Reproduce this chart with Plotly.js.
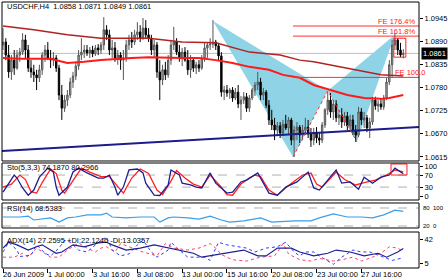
<!DOCTYPE html>
<html><head><meta charset="utf-8">
<script src="https://cdn.plot.ly/plotly-3.0.1.min.js"></script>
<style>html,body{margin:0;padding:0;background:#fff}#chart{width:448px;height:280px}</style>
</head><body><div id="chart"></div>
<script>
// ---------- data ----------
const symbolTitle = 'USDCHF,H4  1.0858 1.0871 1.0849 1.0861';
const stoTitle = 'Sto(5,3,3) 74.1870 80.2966';
const rsiTitle = 'RSI(14) 68.5383';
const adxTitle = 'ADX(14) 27.2595 +DI:22.1246 -DI:13.0357';
const tickBars = [0,16,32,48,64,80,96,112,128];
const tickLabels = ['26 Jun 2009','1 Jul 00:00','3 Jul 16:00','8 Jul 08:00','13 Jul 00:00','15 Jul 16:00','20 Jul 08:00','23 Jul 00:00','27 Jul 16:00'];
const priceTicks = [1.0945,1.0890,1.0835,1.0780,1.0725,1.0670,1.0615];

const open = [1.0881,1.0888,1.0857,1.0817,1.0845,1.0826,1.0857,1.0864,1.0893,1.0869,
1.0826,1.0817,1.0810,1.0803,1.0822,1.0857,1.0869,1.0850,1.0845,1.0850,
1.0826,1.0762,1.0731,1.0750,1.0762,1.0793,1.0807,1.0831,1.0857,1.0864,
1.0869,1.0862,1.0869,1.0860,1.0874,1.0869,1.0881,1.0917,1.0905,1.0869,
1.0874,1.0850,1.0857,1.0845,1.0850,1.0881,1.0893,1.0888,1.0905,1.0912,
1.0897,1.0921,1.0905,1.0897,1.0869,1.0881,1.0817,1.0798,1.0822,1.0810,
1.0845,1.0881,1.0888,1.0864,1.0850,1.0864,1.0845,1.0822,1.0845,1.0826,
1.0834,1.0826,1.0850,1.0874,1.0881,1.0883,1.0888,1.0879,1.0855,1.0769,
1.0774,1.0767,1.0774,1.0755,1.0769,1.0741,1.0750,1.0758,1.0731,1.0755,
1.0774,1.0786,1.0793,1.0762,1.0769,1.0738,1.0703,1.0691,1.0679,1.0689,
1.0672,1.0693,1.0684,1.0703,1.0655,1.0679,1.0686,1.0667,1.0679,1.0686,
1.0670,1.0655,1.0674,1.0660,1.0655,1.0691,1.0727,1.0750,1.0722,1.0741,
1.0708,1.0715,1.0698,1.0712,1.0689,1.0703,1.0679,1.0667,1.0722,1.0703,
1.0708,1.0684,1.0698,1.0750,1.0736,1.0741,1.0734,1.0755,1.0793,1.0834,
1.0881,1.0893,1.0869,1.0858];
const high = [1.0921,1.0897,1.0881,1.0857,1.0869,1.0869,1.0874,1.0909,1.0905,1.0881,
1.0845,1.0834,1.0822,1.0834,1.0864,1.0881,1.0888,1.0869,1.0864,1.0857,
1.0834,1.0786,1.0762,1.0774,1.0803,1.0817,1.0841,1.0869,1.0897,1.0881,
1.0881,1.0876,1.0879,1.0881,1.0883,1.0888,1.0947,1.0928,1.0917,1.0893,
1.0888,1.0869,1.0864,1.0869,1.0893,1.0905,1.0912,1.0917,1.0935,1.0928,
1.0945,1.0940,1.0921,1.0905,1.0893,1.0888,1.0845,1.0834,1.0841,1.0857,
1.0893,1.0924,1.0897,1.0881,1.0874,1.0876,1.0869,1.0857,1.0850,1.0841,
1.0845,1.0857,1.0888,1.0886,1.0897,1.0940,1.0893,1.0886,1.0864,1.0784,
1.0786,1.0779,1.0781,1.0779,1.0786,1.0760,1.0769,1.0767,1.0762,1.0779,
1.0793,1.0817,1.0803,1.0779,1.0774,1.0750,1.0727,1.0708,1.0698,1.0698,
1.0703,1.0715,1.0710,1.0708,1.0689,1.0698,1.0691,1.0691,1.0708,1.0703,
1.0684,1.0684,1.0686,1.0674,1.0698,1.0731,1.0769,1.0767,1.0750,1.0750,
1.0727,1.0731,1.0722,1.0722,1.0715,1.0715,1.0691,1.0734,1.0731,1.0722,
1.0715,1.0708,1.0758,1.0758,1.0750,1.0755,1.0762,1.0803,1.0845,1.0893,
1.0909,1.0897,1.0886,1.0871];
const low = [1.0869,1.0845,1.0803,1.0798,1.0810,1.0822,1.0841,1.0857,1.0850,1.0817,
1.0803,1.0793,1.0774,1.0793,1.0810,1.0841,1.0845,1.0826,1.0831,1.0817,
1.0750,1.0703,1.0722,1.0736,1.0755,1.0779,1.0798,1.0822,1.0845,1.0850,
1.0855,1.0850,1.0852,1.0855,1.0857,1.0860,1.0869,1.0893,1.0857,1.0850,
1.0841,1.0834,1.0822,1.0798,1.0841,1.0869,1.0874,1.0881,1.0893,1.0888,
1.0893,1.0897,1.0888,1.0857,1.0850,1.0803,1.0750,1.0786,1.0798,1.0803,
1.0834,1.0869,1.0857,1.0841,1.0831,1.0841,1.0810,1.0803,1.0817,1.0812,
1.0817,1.0822,1.0841,1.0850,1.0869,1.0874,1.0869,1.0845,1.0758,1.0750,
1.0758,1.0753,1.0746,1.0750,1.0731,1.0703,1.0741,1.0722,1.0722,1.0750,
1.0760,1.0774,1.0750,1.0750,1.0731,1.0691,1.0679,1.0655,1.0667,1.0660,
1.0665,1.0679,1.0670,1.0643,1.0615,1.0655,1.0648,1.0655,1.0667,1.0660,
1.0639,1.0643,1.0648,1.0643,1.0648,1.0684,1.0715,1.0708,1.0703,1.0698,
1.0691,1.0684,1.0689,1.0679,1.0674,1.0667,1.0651,1.0662,1.0691,1.0684,
1.0674,1.0660,1.0691,1.0727,1.0722,1.0727,1.0727,1.0750,1.0786,1.0805,
1.0869,1.0857,1.0852,1.0849];
const close = [1.0888,1.0857,1.0817,1.0845,1.0826,1.0857,1.0864,1.0893,1.0869,1.0826,
1.0817,1.0810,1.0803,1.0822,1.0857,1.0869,1.0850,1.0845,1.0850,1.0826,
1.0762,1.0731,1.0750,1.0762,1.0793,1.0807,1.0831,1.0857,1.0864,1.0869,
1.0862,1.0869,1.0860,1.0874,1.0869,1.0881,1.0917,1.0905,1.0869,1.0874,
1.0850,1.0857,1.0845,1.0850,1.0881,1.0893,1.0888,1.0905,1.0912,1.0897,
1.0921,1.0905,1.0897,1.0869,1.0881,1.0817,1.0798,1.0822,1.0810,1.0845,
1.0881,1.0888,1.0864,1.0850,1.0864,1.0845,1.0822,1.0845,1.0826,1.0834,
1.0826,1.0850,1.0874,1.0881,1.0883,1.0888,1.0879,1.0855,1.0769,1.0774,
1.0767,1.0774,1.0755,1.0769,1.0741,1.0750,1.0758,1.0731,1.0755,1.0774,
1.0786,1.0793,1.0762,1.0769,1.0738,1.0703,1.0691,1.0679,1.0689,1.0672,
1.0693,1.0684,1.0703,1.0655,1.0679,1.0686,1.0667,1.0679,1.0686,1.0670,
1.0655,1.0674,1.0660,1.0655,1.0691,1.0727,1.0750,1.0722,1.0741,1.0708,
1.0715,1.0698,1.0712,1.0689,1.0703,1.0679,1.0667,1.0722,1.0703,1.0708,
1.0684,1.0698,1.0750,1.0736,1.0741,1.0734,1.0755,1.0793,1.0834,1.0881,
1.0893,1.0869,1.0857,1.0861];

// moving averages (read at selected bars)
const maSlowBars = [0,11,23,35,52,64,76,88,99,106,111,123,135,143];
const maSlowVals = [1.0926,1.0917,1.0905,1.0897,1.0897,1.0888,1.0886,1.0864,1.0857,1.0845,1.0841,1.0826,1.0810,1.0807];
const maFastBars = [0,6,17,23,29,35,46,52,64,70,76,82,88,95,100,106,111,117,123,129,135,138,143];
const maFastVals = [1.0850,1.0848,1.0848,1.0838,1.0841,1.0845,1.0850,1.0852,1.0850,1.0850,1.0845,1.0838,1.0829,1.0822,1.0810,1.0803,1.0786,1.0774,1.0762,1.0755,1.0753,1.0755,1.0762];
const trendBars = [-0.4,148.6];
const trendVals = [1.0629,1.0686];

// harmonic pattern X A B C D
const patternBars = [75,103.6,116,126.4,140];
const patternPrices = [1.0938,1.0615,1.0772,1.0651,1.0905];
const feLevels = [1.0926,1.0902,1.0804];
const feLabels = ['FE 176.4%','FE 161.8%','FE 100.0'];
const boxBars = [139.6,143.9];
const boxPrices = [1.0852,1.0897];

// Stochastic(5,3,3)
const stoMainBars = [0,4,5,7,9,11,13,16,18,19,20,23,25,27,30,34,36,38,40,41,43,45,48,50,51,54,56,59,60,63,64,67,69,71,74,76,80,82,85,87,91,93,95,98,101,105,109,111,113,116,119,121,124,127,129,132,135,138,140,143];
const stoMainVals = [13,70,60,27,3,20,63,93,80,30,3,30,80,93,77,60,60,70,30,3,30,87,90,77,43,3,2,37,87,70,43,37,30,27,77,43,10,13,47,53,77,43,10,3,30,47,80,27,20,53,87,43,47,23,63,43,63,70,93,74.19];
const stoSigBars = [0,3,6,8,10,12,14,17,19,21,22,25,28,31,35,38,41,43,46,49,52,55,57,60,62,65,68,71,74,78,80,82,85,88,90,92,95,98,102,107,110,112,114,119,122,126,129,133,137,140,143];
const stoSigVals = [30,40,70,55,15,10,45,90,75,20,10,50,93,80,65,65,30,10,60,90,75,20,5,50,85,60,40,30,70,30,5,3,40,60,70,65,20,3,35,70,77,40,30,80,55,37,45,53,70,87,80.30];
const stoBoxBars = [138.6,144.3];
const stoBoxVals = [70,106.7];

// RSI(14)
const rsiBars = [0,6,9,11,17,20,23,26,30,35,37,39,44,49,54,56,59,61,66,70,74,78,81,86,92,96,104,110,113,118,123,128,132,136,140,143];
const rsiVals = [50,50,53,40,47,33,47,50,57,57,63,50,47,50,50,33,47,50,47,43,53,40,33,37,47,33,37,37,47,60,50,50,47,57,73,68.54];

// ADX(14)
const adxBars = [0,2,5,9,12,14,17,19,21,25,29,34,37,39,44,49,54,59,63,68,71,74,79,86,91,94,98,103,106,111,116,119,124,129,134,137,141,143];
const adxVals = [28,37,33,25,30,33,25,20,22,33,30,36,37,33,25,28,33,28,25,20,14,16,20,25,16,16,28,28,22,16,20,25,22,16,20,14,22,27.26];
const pdiBars = [0,4,7,9,12,15,17,20,23,27,30,33,35,37,40,42,45,50,55,58,61,66,70,74,76,78,82,87,92,97,99,100,102,106,110,113,118,121,125,128,132,135,138,141,143];
const pdiVals = [14,14,20,14,28,19,14,14,25,36,28,22,28,30,22,35,30,22,16,35,28,25,28,35,28,18,10,8,14,16,28,35,19,10,8,12,8,10,14,8,14,20,30,28,22.12];
const mdiBars = [0,2,5,6,10,12,15,17,20,22,24,27,30,35,37,39,42,45,48,50,53,55,59,60,63,66,72,74,76,77,80,84,87,90,94,98,101,104,106,108,111,113,118,121,125,128,131,136,139,143];
const mdiVals = [22,37,25,15,17,33,20,16,28,40,37,25,22,40,45,25,16,19,33,40,22,14,25,37,25,14,14,9,28,37,33,30,28,22,28,30,37,22,16,22,22,16,3,14,25,22,22,14,9,13.04];

// ---------- drawing ----------
const FONT = 'Liberation Sans, Arial, sans-serif';
const idx = close.map((_, i) => i);
const xr = [-0.36, 148.6];
const last = close[close.length - 1];

const traces = [
  {type:'candlestick', x:idx, open:open, high:high, low:low, close:close, xaxis:'x', yaxis:'y',
   whiskerwidth:0, hoverinfo:'skip', showlegend:false,
   increasing:{line:{color:'#555555', width:1}, fillcolor:'#b4b4b4'},
   decreasing:{line:{color:'#000000', width:1}, fillcolor:'#000000'}},
  {type:'scatter', mode:'lines', x:maSlowBars, y:maSlowVals, line:{color:'#b22222', width:1.5}, yaxis:'y', showlegend:false, hoverinfo:'skip'},
  {type:'scatter', mode:'lines', x:maFastBars, y:maFastVals, line:{color:'#ff1a1a', width:2}, yaxis:'y', showlegend:false, hoverinfo:'skip'},
  {type:'scatter', mode:'lines', x:trendBars, y:trendVals, line:{color:'#1c1c8a', width:2}, yaxis:'y', showlegend:false, hoverinfo:'skip', cliponaxis:true},
  {type:'scatter', mode:'lines', x:patternBars.slice(1,4), y:patternPrices.slice(1,4), line:{color:'#ff3030', width:1, dash:'dot'}, yaxis:'y', showlegend:false, hoverinfo:'skip'},
  {type:'scatter', mode:'lines', x:stoSigBars, y:stoSigVals, line:{color:'#ff2020', width:1.3}, yaxis:'y2', showlegend:false, hoverinfo:'skip'},
  {type:'scatter', mode:'lines', x:stoMainBars, y:stoMainVals, line:{color:'#1e1e90', width:1.3}, yaxis:'y2', showlegend:false, hoverinfo:'skip'},
  {type:'scatter', mode:'lines', x:rsiBars, y:rsiVals, line:{color:'#3a9ee8', width:1.2}, yaxis:'y3', showlegend:false, hoverinfo:'skip'},
  {type:'scatter', mode:'lines', x:pdiBars, y:pdiVals, line:{color:'#ff4060', width:1, dash:'dot'}, yaxis:'y4', showlegend:false, hoverinfo:'skip'},
  {type:'scatter', mode:'lines', x:mdiBars, y:mdiVals, line:{color:'#2a3cff', width:1, dash:'dot'}, yaxis:'y4', showlegend:false, hoverinfo:'skip'},
  {type:'scatter', mode:'lines', x:adxBars, y:adxVals, line:{color:'#1e1e90', width:1.2}, yaxis:'y4', showlegend:false, hoverinfo:'skip'}
];

function triPath(a, b, c) {
  return 'M' + patternBars[a] + ',' + patternPrices[a] +
         ' L' + patternBars[b] + ',' + patternPrices[b] +
         ' L' + patternBars[c] + ',' + patternPrices[c] + ' Z';
}

const shapes = [
  {type:'path', xref:'x', yref:'y', path:triPath(0,1,2), fillcolor:'#8fd4e6', line:{width:0}, layer:'below'},
  {type:'path', xref:'x', yref:'y', path:triPath(2,3,4), fillcolor:'#8fd4e6', line:{width:0}, layer:'below'},
  {type:'line', xref:'paper', yref:'y', x0:0, x1:1, y0:last, y1:last, line:{color:'#bdbdbd', width:1}, layer:'below'},
  {type:'rect', xref:'x', yref:'y', x0:boxBars[0], x1:boxBars[1], y0:boxPrices[0], y1:boxPrices[1], line:{color:'#ff2020', width:1}},
  {type:'rect', xref:'x', yref:'y2', x0:stoBoxBars[0], x1:stoBoxBars[1], y0:stoBoxVals[0], y1:stoBoxVals[1], line:{color:'#ff2020', width:1}},
  {type:'line', xref:'paper', yref:'y2', x0:0, x1:1, y0:70, y1:70, line:{color:'#b0b0b0', width:1, dash:'dash'}, layer:'below'},
  {type:'line', xref:'paper', yref:'y2', x0:0, x1:1, y0:30, y1:30, line:{color:'#b0b0b0', width:1, dash:'dash'}, layer:'below'},
  {type:'line', xref:'paper', yref:'y3', x0:0, x1:1, y0:80, y1:80, line:{color:'#b0b0b0', width:1, dash:'dash'}, layer:'below'},
  {type:'line', xref:'paper', yref:'y3', x0:0, x1:1, y0:20, y1:20, line:{color:'#b0b0b0', width:1, dash:'dash'}, layer:'below'}
];
feLevels.forEach(v => shapes.push({type:'line', xref:'x', yref:'y', x0:patternBars[1], x1:xr[1], y0:v, y1:v, line:{color:'#ff3030', width:1}}));

const domains = {main:[0.4023,1], sto:[0.2556,0.3947], rsi:[0.1504,0.2444], adx:[0,0.1353]};
Object.values(domains).forEach(d => shapes.push({type:'rect', xref:'paper', yref:'paper', x0:0, x1:1, y0:d[0], y1:d[1], line:{color:'#000', width:1}}));

const annotations = [
  {xref:'paper', yref:'paper', x:0.008, y:0.983, xanchor:'left', yanchor:'middle', text:symbolTitle, showarrow:false},
  {xref:'paper', yref:'paper', x:0.008, y:0.376, xanchor:'left', yanchor:'middle', text:stoTitle, showarrow:false},
  {xref:'paper', yref:'paper', x:0.008, y:0.222, xanchor:'left', yanchor:'middle', text:rsiTitle, showarrow:false},
  {xref:'paper', yref:'paper', x:0.008, y:0.105, xanchor:'left', yanchor:'middle', text:adxTitle, showarrow:false},
  {xref:'paper', yref:'y', x:1, y:last, xanchor:'left', yanchor:'middle', xshift:2, text:last.toFixed(4), showarrow:false, bgcolor:'#000', borderpad:1, font:{color:'#fff', size:7.5, family:FONT}},
  {xref:'paper', yref:'y3', x:1, y:80, xanchor:'left', yanchor:'middle', xshift:2, text:'80', showarrow:false, font:{size:6, family:FONT}},
  {xref:'paper', yref:'y3', x:1, y:80, xanchor:'left', yanchor:'middle', xshift:12, text:'100', showarrow:false, font:{size:6, family:FONT}},
  {xref:'paper', yref:'y3', x:1, y:20, xanchor:'left', yanchor:'middle', xshift:2, text:'20', showarrow:false, font:{size:6, family:FONT}},
  {xref:'paper', yref:'y3', x:1, y:20, xanchor:'left', yanchor:'middle', xshift:12, text:'0', showarrow:false, font:{size:6, family:FONT}}
];
feLevels.forEach((v, k) => {
  if (k < 2) annotations.push({xref:'paper', yref:'y', x:1, y:v, xanchor:'right', yanchor:'bottom', xshift:-2, yshift:-2, text:feLabels[k], showarrow:false, font:{color:'#ff2020', size:7.5, family:FONT}});
  else annotations.push({xref:'paper', yref:'y', x:0.9376, y:v, xanchor:'left', yanchor:'bottom', yshift:-2, text:feLabels[k], showarrow:false, font:{color:'#ff2020', size:7.5, family:FONT}});
});
tickBars.forEach((b, k) => annotations.push({xref:'x', yref:'paper', x:b, y:-0.0244, xanchor:'left', yanchor:'middle', xshift:-2, text:tickLabels[k], showarrow:false}));

const yBase = {side:'right', anchor:'x', showgrid:false, zeroline:false, ticks:'outside', ticklen:3, tickcolor:'#000', showline:false, fixedrange:true, tickfont:{size:7.5, family:FONT, color:'#000'}};
const layout = {
  width:448, height:280, margin:{l:2, r:29, t:2, b:12}, paper_bgcolor:'#fff', plot_bgcolor:'#fff',
  font:{family:FONT, size:7.5, color:'#000'}, showlegend:false,
  xaxis:{range:xr, anchor:'y4', showgrid:false, zeroline:false, tickvals:tickBars, ticks:'outside', ticklen:4, tickcolor:'#000', showticklabels:false, rangeslider:{visible:false}, fixedrange:true},
  yaxis:Object.assign({}, yBase, {domain:domains.main, range:[1.06055, 1.0983], tickvals:priceTicks, tickformat:'.4f'}),
  yaxis2:Object.assign({}, yBase, {domain:domains.sto, range:[-13, 110], tickvals:[0,30,70,100]}),
  yaxis3:Object.assign({}, yBase, {domain:domains.rsi, range:[13.3, 96.7], tickvals:[], showticklabels:false}),
  yaxis4:Object.assign({}, yBase, {domain:domains.adx, range:[-2.7, 52.8], tickvals:[5,42]}),
  shapes:shapes, annotations:annotations
};
Plotly.newPlot('chart', traces, layout, {staticPlot:true, displayModeBar:false});
</script></body></html>
